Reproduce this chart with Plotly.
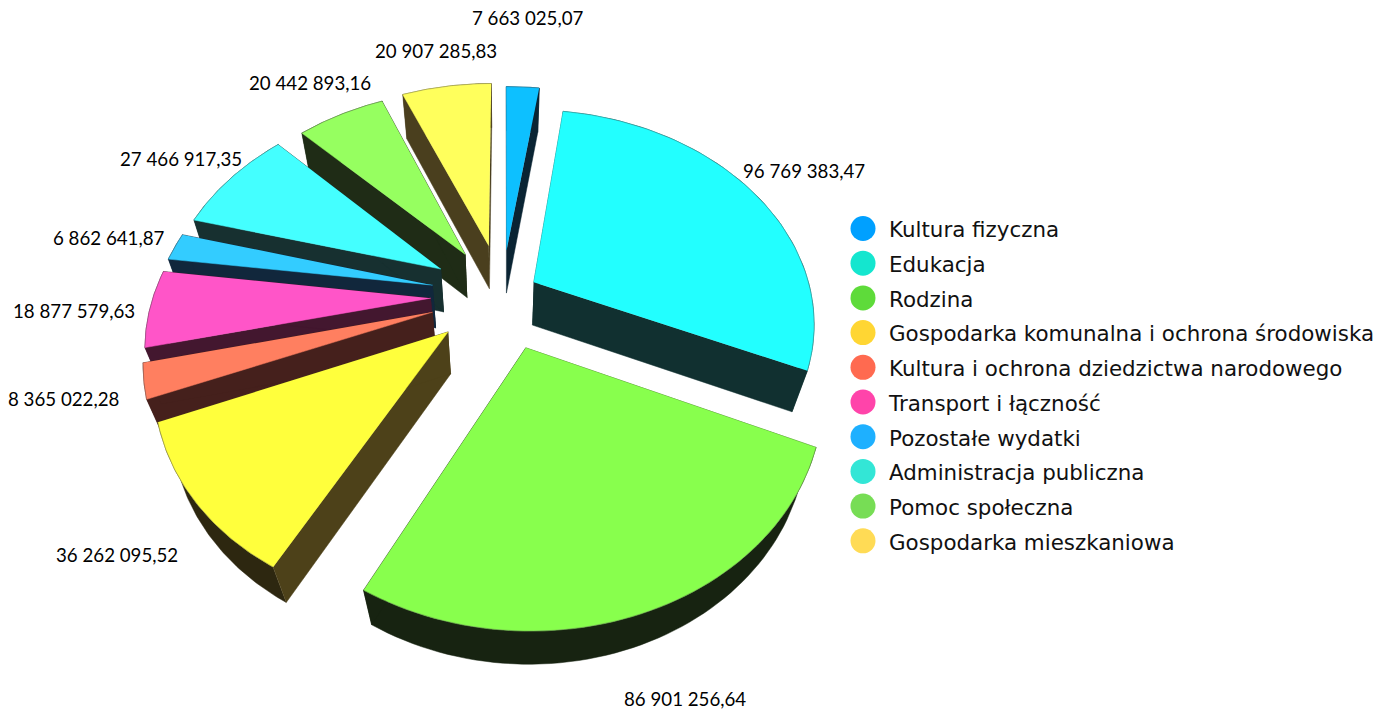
import numpy as np
import plotly.graph_objects as go

names = ["Kultura fizyczna","Edukacja","Rodzina","Gospodarka komunalna i ochrona środowiska","Kultura i ochrona dziedzictwa narodowego","Transport i łączność","Pozostałe wydatki","Administracja publiczna","Pomoc społeczna","Gospodarka mieszkaniowa"]
vals = [7663025.07,96769383.47,86901256.64,36262095.52,8365022.28,18877579.63,6862641.87,27466917.35,20442893.16,20907285.83]
value_text = ["7 663 025,07","96 769 383,47","86 901 256,64","36 262 095,52","8 365 022,28","18 877 579,63","6 862 641,87","27 466 917,35","20 442 893,16","20 907 285,83"]
top_colors = ["#0dc0ff","#22ffff","#88ff4d","#ffff3c","#ff7f60","#ff55c8","#33ccff","#44ffff","#96ff60","#ffff5c"]
side_colors = ["#0a2433","#113030","#172311","#4d4119","#45201c","#43172f","#11273c","#173030","#1f2c16","#4a3f1e"]
rim_colors = ["#0a2433","#113030","#172311","#2d2710","#45201c","#43172f","#11273c","#173030","#1f2c16","#4a3f1e"]
legend_colors = ["#00a0ff","#14e6cf","#5edb3a","#ffd633","#ff6a50","#ff44aa","#1eb0ff","#33e6d6","#77dd55","#ffdb55"]
label_xy = [(528,18),(804,171),(685,699),(117,555),(63,399),(74,311),(109,238),(181,159),(310,83),(436,51)]
pull = [0.228,0.132,0.253,0.252,0.258,0.256,0.257,0.260,0.245,0.255]

# Camera of the tilted pie: plane -> screen homography, start angle, vanishing point of the depth
H = np.array([[136.216,-259.111,502.035],[-152.329,-24.1238,295.533],[0.182265,0.0298224,1.0]])
t0 = 1.411
V = np.array([503.0,1184.0])

v=np.array(vals);fr=np.cumsum(v)/v.sum()*2*np.pi;st=np.r_[0,fr[:-1]]
def project(X,Y):
    q=H@np.c_[X,Y,np.ones_like(X)].T
    return np.c_[q[0]/q[2],q[1]/q[2]]
def sink(P):
    lamb=0.046+3.6e-5*(P[:,1]-245)
    return P+lamb[:,None]*(V-P)
def poly(P,color):
    return go.Scatter(x=P[:,0],y=P[:,1],mode='lines',fill='toself',fillcolor=color,line=dict(width=0.5,color=color),hoverinfo='skip',showlegend=False)
fig=go.Figure()
for i in [0,9,8,1,7,6,5,4,3,2]:
    s,f=st[i]+t0,fr[i]+t0;b=(s+f)/2
    th=np.linspace(s,f,60)
    ax,ay=pull[i]*np.sin(b),pull[i]*np.cos(b)
    arc=project(ax+np.sin(th),ay+np.cos(th));apex=project(np.array([ax]),np.array([ay]))
    arcb=sink(arc);apexb=sink(apex)
    fig.add_trace(poly(np.r_[arc,arcb[::-1]],rim_colors[i]))
    fig.add_trace(poly(np.r_[apex,arc[:1],arcb[:1],apexb],side_colors[i]))
    fig.add_trace(poly(np.r_[apex,arc[-1:],arcb[-1:],apexb],side_colors[i]))
    fig.add_trace(poly(np.r_[apex,arc],top_colors[i]))
    fig.add_trace(go.Scatter(x=arc[:,0],y=arc[:,1],mode='lines',line=dict(width=1,color='rgba(70,70,70,0.3)'),hoverinfo='skip',showlegend=False))
ly=[228.5+34.7*k for k in range(10)]
fig.add_trace(go.Scatter(x=[863]*10,y=ly,mode='markers',marker=dict(size=25,color=legend_colors),hoverinfo='skip',showlegend=False))
fig.add_trace(go.Scatter(x=[889]*10,y=[y+3.5 for y in ly],mode='text',text=names,textposition='middle right',textfont=dict(family='DejaVu Sans',size=21.4,color='#111'),hoverinfo='skip',showlegend=False))
anns=[dict(x=x,y=y,text=t,showarrow=False,font=dict(family='Lato',size=18.7,color='black')) for t,(x,y) in zip(value_text,label_xy)]
fig.update_layout(width=1396,height=711,margin=dict(l=0,r=0,t=0,b=0),plot_bgcolor='white',paper_bgcolor='white',
 xaxis=dict(range=[0,1396],visible=False),yaxis=dict(range=[711,0],visible=False),annotations=anns)
fig.write_html("out.html",config=dict(displayModeBar=False),post_script="document.body.style.margin='0';document.body.style.overflow='hidden';")
